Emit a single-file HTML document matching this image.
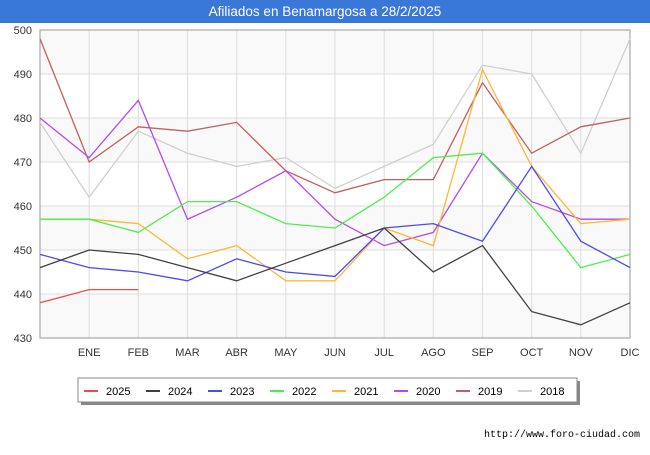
<!DOCTYPE html>
<html><head><meta charset="utf-8"><style>
body{margin:0;background:#fff;font-family:"Liberation Sans",sans-serif}
</style></head><body>
<svg width="650" height="450" xmlns="http://www.w3.org/2000/svg" font-family="Liberation Sans, sans-serif">
<rect x="0" y="0" width="650" height="450" fill="#fff"/>
<rect x="0" y="0" width="650" height="23" fill="#3a78d8"/>
<text x="325" y="16" fill="#fff" font-size="13.5" text-anchor="middle">Afiliados en Benamargosa a 28/2/2025</text>
<g id="plot"></g>
<g id="legend"></g>
<text x="640" y="437" font-size="10" text-anchor="end" fill="#000" font-family="Liberation Mono, monospace">http://www.foro-ciudad.com</text>
</svg>
<script>
const months=["","ENE","FEB","MAR","ABR","MAY","JUN","JUL","AGO","SEP","OCT","NOV","DIC"];
const yTicks=[430,440,450,460,470,480,490,500];
const seriesNames=["2025","2024","2023","2022","2021","2020","2019","2018"];
const seriesColors=["#f04a4a","#404040","#4a4af0","#4af04a","#ffb733","#b44af0","#c06060","#d0d0d0"];
const s2025=[438,441,441];
const s2024=[446,450,449,446,443,447,451,455,445,451,436,433,438];
const s2023=[449,446,445,443,448,445,444,455,456,452,469,452,446];
const s2022=[457,457,454,461,461,456,455,462,471,472,460,446,449];
const s2021=[457,457,456,448,451,443,443,455,451,491,469,456,457];
const s2020=[480,471,484,457,462,468,457,451,454,472,461,457,457];
const s2019=[498,470,478,477,479,468,463,466,466,488,472,478,480];
const s2018=[479,462,477,472,469,471,464,469,474,492,490,472,498];
const allSeries=[s2025,s2024,s2023,s2022,s2021,s2020,s2019,s2018];
const NS="http://www.w3.org/2000/svg";
const L=40,R=630,T=30,B=338;
const x=i=>L+i*(R-L)/12;
const y=v=>B-(v-430)*(B-T)/70;
function mk(tag,attrs,parent){const e=document.createElementNS(NS,tag);for(const k in attrs)e.setAttribute(k,attrs[k]);parent.appendChild(e);return e;}
const plot=document.getElementById('plot');
for(let i=0;i<yTicks.length-1;i++){
  const r=mk('rect',{x:L,y:y(yTicks[i+1]),width:R-L,height:y(yTicks[i])-y(yTicks[i+1]),fill:i%2==0?'#f9f9f9':'#fff'},plot);
  
  
}
yTicks.forEach(v=>{
  const l=mk('line',{x1:L,x2:R,y1:y(v),y2:y(v),stroke:'#ddd','stroke-width':1},plot);
  
  
  const t=mk('text',{x:L-8,y:y(v)+4,'font-size':11,'text-anchor':'end',fill:'#333'},plot);
  t.textContent=v;
  
  
});
months.forEach((m,i)=>{
  const l=mk('line',{x1:x(i),x2:x(i),y1:T,y2:B,stroke:'#ddd','stroke-width':1},plot);
  
  
  if(m){const t=mk('text',{x:x(i),y:B+18,'font-size':11,'text-anchor':'middle',fill:'#333'},plot);
  t.textContent=m;
  
  }
});
const ax=mk('rect',{x:L,y:T,width:R-L,height:B-T,fill:'none',stroke:'#999'},plot);


for(let s=allSeries.length-1;s>=0;s--){
  const pts=allSeries[s].map((v,i)=>x(i)+','+y(v)).join(' ');
  const p=mk('polyline',{points:pts,fill:'none',stroke:seriesColors[s],'stroke-width':1.3},plot);
  
  
}
const lg=document.getElementById('legend');
const sh=mk('rect',{x:81,y:381,width:499,height:24,fill:'#888'},lg);


const box=mk('rect',{x:78,y:378,width:499,height:24,fill:'#fff',stroke:'#888'},lg);


seriesNames.forEach((n,i)=>{
  const bx=84+i*62;
  const l=mk('line',{x1:bx,x2:bx+14,y1:391,y2:391,stroke:seriesColors[i],'stroke-width':2},lg);
  
  
  const t=mk('text',{x:bx+22,y:395,'font-size':11,fill:'#000'},lg);
  t.textContent=n;
  
  
});
</script>
</body></html>
